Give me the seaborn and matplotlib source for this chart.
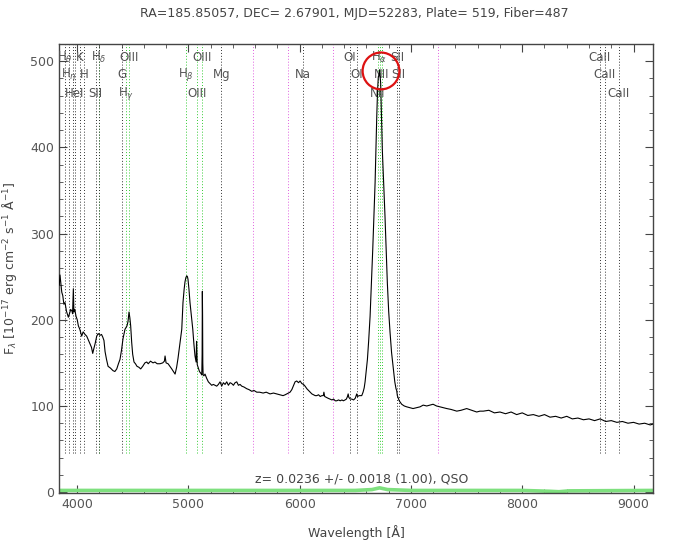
import numpy as np
import pandas as pd
import matplotlib
matplotlib.use("Agg")
import matplotlib.pyplot as plt
from matplotlib.patches import Ellipse
from matplotlib.ticker import MultipleLocator
import seaborn as sns

# ---- data ----
title = "RA=185.85057, DEC= 2.67901, MJD=52283, Plate= 519, Fiber=487"
redshift = 0.0236

wave = [3840, 3847, 3852, 3863, 3872, 3882, 3892, 3905, 3922, 3932, 3943, 3955, 3960, 3967, 3972,
        3980, 3991, 4002, 4012, 4025, 4042, 4055, 4072, 4087, 4100, 4117, 4130, 4141, 4150, 4162,
        4177, 4190, 4207, 4220, 4231, 4242, 4252, 4265, 4279, 4300, 4323, 4340, 4357, 4372, 4386,
        4400, 4413, 4431, 4440, 4449, 4458, 4467, 4475, 4482, 4491, 4500, 4512, 4525, 4539, 4555,
        4572, 4590, 4610, 4626, 4640, 4660, 4683, 4700, 4720, 4746, 4770, 4785, 4791, 4800, 4818,
        4835, 4851, 4866, 4881, 4895, 4907, 4920, 4941, 4952, 4962, 4970, 4978, 4986, 4992, 4997,
        5006, 5015, 5027, 5040, 5050, 5060, 5070, 5074, 5077, 5080, 5090, 5100, 5112, 5121, 5124,
        5126, 5128, 5130, 5133, 5140, 5150, 5165, 5180, 5195, 5210, 5225, 5240, 5255, 5270, 5285,
        5300, 5315, 5330, 5345, 5360, 5375, 5390, 5405, 5420, 5435, 5450, 5465, 5480, 5500, 5525,
        5545, 5570, 5590, 5615, 5640, 5672, 5700, 5734, 5765, 5794, 5820, 5851, 5870, 5884, 5900,
        5914, 5930, 5943, 5959, 5974, 5990, 6004, 6020, 6035, 6049, 6065, 6080, 6094, 6110, 6125,
        6140, 6154, 6170, 6185, 6200, 6213, 6218, 6225, 6240, 6255, 6273, 6290, 6305, 6320, 6333,
        6350, 6365, 6380, 6393, 6408, 6420, 6430, 6436, 6442, 6455, 6469, 6485, 6500, 6508, 6513,
        6520, 6535, 6548, 6558, 6570, 6580, 6588, 6598, 6609, 6620, 6633, 6645, 6657, 6668, 6678,
        6686, 6693, 6700, 6707, 6713, 6718, 6723, 6728, 6735, 6743, 6755, 6767, 6778, 6788, 6800,
        6812, 6826, 6842, 6855, 6866, 6872, 6878, 6895, 6917, 6940, 6962, 6990, 7019, 7050, 7082,
        7110, 7142, 7170, 7199, 7230, 7261, 7290, 7322, 7360, 7412, 7450, 7501, 7545, 7591, 7620,
        7650, 7700, 7750, 7800, 7850, 7900, 7950, 8000, 8050, 8100, 8150, 8200, 8250, 8300, 8350,
        8400, 8450, 8500, 8550, 8600, 8650, 8700, 8750, 8800, 8850, 8900, 8950, 9000, 9050, 9100,
        9150, 9175]
flux = [240, 252, 246, 232, 228, 218, 220, 210, 203, 207, 212, 210, 207, 236, 209,
        212, 204, 200, 193, 189, 181, 186, 183, 181, 177, 172, 168, 161, 166, 172,
        181, 184, 182, 183, 180, 176, 163, 154, 146, 144, 141, 140, 143, 149, 154,
        165, 178, 189, 191, 193, 198, 209, 202, 193, 174, 160, 151, 149, 146, 145,
        143, 146, 150, 151, 149, 152, 150, 151, 149, 149, 150, 152, 158, 150, 149,
        146, 143, 140, 137, 145, 155, 168, 189, 220, 235, 244, 249, 251, 250, 247,
        235, 220, 205, 189, 172, 158, 151, 175, 160, 148, 144, 140, 138, 136, 160,
        233, 205, 150, 136, 135, 137, 132, 128, 126, 124, 125, 124, 123, 125, 128,
        123, 127, 125, 128, 124, 127, 126, 124, 127, 128, 124, 125, 123, 122, 120,
        119, 117, 118, 116, 116, 115, 116, 114, 115, 114, 113, 112, 113, 114, 115,
        116, 119, 123, 128, 129, 127, 129, 126, 125, 123, 120, 118, 116, 114, 113,
        112, 112, 113, 111, 112, 112, 116, 111, 110, 109, 108, 107, 108, 106, 106,
        107, 106, 107, 106, 107, 108, 111, 114, 110, 108, 108, 107, 109, 112, 114,
        111, 112, 112, 112, 116, 121, 128, 140, 154, 175, 204, 243, 282, 322, 359,
        400, 436, 465, 482, 484, 490, 482, 475, 440, 397, 358, 320, 280, 243, 210,
        186, 162, 143, 128, 120, 118, 112, 106, 102, 100, 99, 98, 97, 98, 99,
        101, 100, 101, 102, 100, 99, 98, 97, 96, 94, 95, 97, 95, 93, 94,
        94, 95, 92, 93, 91, 93, 90, 92, 89, 90, 88, 90, 87, 88, 86,
        88, 85, 86, 84, 85, 83, 85, 82, 83, 81, 82, 80, 81, 79, 80,
        78, 79]

err_wave = [3840, 4500, 5500, 6500, 6650, 6718, 6790, 7000, 8000, 8250, 8330, 8420, 9175]
err_flux = [2, 2, 2, 2, 3, 5, 3, 2, 2, 1, 0.5, 1.5, 2]

# line list (rest wavelengths, label, colour group, label row)
line_wave = [3798, 3835, 3869, 3889, 3934, 3969, 4072, 4102, 4102, 4305, 4340, 4363,
             4861, 4959, 5007, 5175, 5894, 6300, 6363, 6548, 6563, 6583, 6716, 6731,
             8498, 8542, 8662]
line_label = [r"H$_\theta$", r"H$_\eta$", "", "HeI", "K", "H", "SII", r"H$_\delta$", "",
              "G", r"H$_\gamma$", "OIII", r"H$_\beta$", "OIII", "OIII", "Mg", "Na",
              "OI", "OI", "NII", r"H$_\alpha$", "NII", "SII", "SII", "CaII", "CaII", "CaII"]
line_kind = ["abs", "abs", "abs", "abs", "abs", "abs", "abs", "em", "abs", "abs", "em", "em",
             "em", "em", "em", "abs", "abs", "abs", "abs", "em", "em", "em", "abs", "abs",
             "abs", "abs", "abs"]
line_row = [0, 1, 0, 2, 0, 1, 2, 0, 0, 1, 2, 0, 1, 2, 0, 1, 1, 0, 1, 2, 0, 1, 0, 1, 0, 1, 2]

sky_wave = [5577, 5893, 6300, 7246]

z_text = "z= 0.0236 +/- 0.0018 (1.00), QSO"

# ---- plot ----
sns.set_style("ticks")
plt.rcParams['font.family'] = ['DejaVu Sans']
fig = plt.figure(figsize=(6.82, 5.5), dpi=100)
ax = fig.add_axes([0.0865, 0.1036, 0.871, 0.8164])

df = pd.DataFrame({"wave": wave, "flux": flux})
edf = pd.DataFrame({"wave": err_wave, "flux": err_flux})

sns.lineplot(data=edf, x="wave", y="flux", color="#7ee07e", lw=2.6, ax=ax, zorder=2)

trans = ax.get_xaxis_transform()
colors = {"abs": "#333333", "em": "#33cc33"}
row_y = [0.971, 0.931, 0.889]
for w, lab, kind, row in zip(line_wave, line_label, line_kind, line_row):
    wo = w * (1 + redshift)
    ax.plot([wo, wo], [0.09, 1.0], transform=trans, color=colors[kind], ls=(0, (1, 2)),
            lw=0.7, zorder=1)
    if lab:
        ax.text(wo, row_y[row], lab, transform=trans, ha="center", va="center",
                fontsize=8.5, color="#555555", zorder=3)
for w in sky_wave:
    ax.plot([w, w], [0.09, 1.0], transform=trans, color="#e060e0", ls=(0, (1, 2)),
            lw=0.7, zorder=1)

sns.lineplot(data=df, x="wave", y="flux", color="black", lw=0.8, ax=ax, zorder=4)

ax.add_patch(Ellipse((6731, 0.94), 330, 0.082, transform=trans, fill=False,
                     edgecolor="#dd1111", lw=1.6, zorder=5))

ax.text(0.51, 0.031, z_text, transform=ax.transAxes, ha="center", va="center",
        fontsize=9, color="#444444")

ax.set_xlim(3838, 9175)
ax.set_ylim(-1, 520)
ax.xaxis.set_major_locator(MultipleLocator(1000))
ax.xaxis.set_minor_locator(MultipleLocator(200))
ax.yaxis.set_major_locator(MultipleLocator(100))
ax.yaxis.set_minor_locator(MultipleLocator(20))
ax.tick_params(which="both", direction="in", top=True, right=True, colors="#444444",
               labelcolor="#555555", labelsize=9)
ax.tick_params(which="major", length=6)
ax.tick_params(which="minor", length=3)
for s in ax.spines.values():
    s.set_color("#444444")
    s.set_linewidth(1.0)

ax.set_xlabel("Wavelength [Å]", fontsize=9, color="#444444", labelpad=10)
ax.set_ylabel(r"F$_\lambda$ [10$^{-17}$ erg cm$^{-2}$ s$^{-1}$ Å$^{-1}$]", fontsize=9,
              color="#444444", labelpad=8)
fig.text(0.52, 0.975, title, ha="center", va="center", fontsize=9, color="#444444")

fig.savefig("out.png", dpi=100)
